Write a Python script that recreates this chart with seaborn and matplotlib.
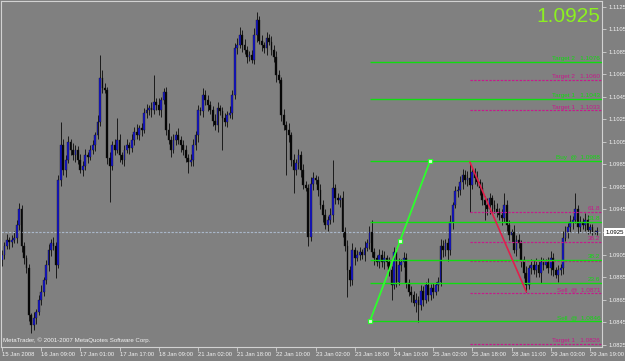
import numpy as np
import matplotlib
matplotlib.use("Agg")
import matplotlib.pyplot as plt
import seaborn as sns

# ---------------- data (prices in pips above 1.0000: price = 1 + pips/10000) -------------
first_open_pips = 900
close_pips = [
    905, 913, 918, 916, 918, 920, 931, 945, 913, 902,
    893, 851, 842, 849, 854, 865, 872, 882, 896, 909,
    915, 913, 896, 971, 1002, 980, 989, 1005, 998, 993,
    998, 989, 980, 984, 993, 992, 998, 1002, 1011, 1023,
    1062, 1053, 1051, 991, 984, 1002, 998, 1007, 993, 989,
    998, 1002, 1000, 1007, 1014, 1011, 1017, 1016, 1031, 1033,
    1035, 1033, 1040, 1038, 1033, 1042, 1049, 1016, 1007, 998,
    1007, 1011, 1007, 1002, 998, 991, 987, 989, 1002, 1011,
    1033, 1032, 1047, 1042, 1038, 1033, 1024, 1020, 1035, 1032,
    1026, 1023, 1029, 1031, 1047, 1088, 1091, 1100, 1091, 1087,
    1080, 1082,
    1078, 1100, 1113, 1095, 1091, 1088, 1097, 1094, 1087,
    1080, 1064, 1060, 1029, 1020, 1016, 1011, 989, 980, 986,
    993, 980, 967, 964, 921, 968, 973, 971, 962, 949,
    940, 931, 936, 940, 964, 955, 953, 955, 925, 913,
    891, 882, 909, 902, 905, 907, 905, 911, 915, 925,
    907, 902, 898, 905, 898, 902, 898, 891, 878, 907,
    881, 896, 898, 902, 880, 872, 869, 862, 865, 860,
    873, 865, 878, 869, 875, 872, 878, 881, 913, 909,
    915, 909, 934, 949, 961, 962, 969, 976, 971, 973,
    967, 978, 973, 969, 964, 953, 949, 945, 955, 949,
    945, 943, 940, 937, 949, 931, 922, 925, 909, 918,
    915, 900, 889, 878, 893, 896, 891, 896, 889, 898,
    896, 898, 893, 902, 891, 887, 891, 893, 920, 925,
    929, 934, 936, 945, 929, 934, 931, 936, 927, 929,
    925, 925, 926,
]
upper_wick_pips = [
    4, 3, 5, 3, 4, 6, 5, 6, 4, 3,
    3, 4, 2, 5, 3, 4, 6, 3, 4, 5,
    4, 6, 3, 5, 21, 6, 4, 5, 3, 6,
    4, 3, 5, 4, 6, 3, 4, 5, 3, 6,
    20, 7, 4, 3, 5, 4, 6, 19, 5, 3,
    4, 6, 3, 5, 4, 7, 3, 5, 4, 6,
    3, 5, 24, 4, 6, 3, 4, 5, 6, 3,
    5, 4, 6, 3, 5, 4, 3, 5, 6, 4,
    5, 3, 6, 4, 5, 3, 4, 6, 5, 3,
    4, 5, 3, 6, 4, 5, 6, 7, 4, 5,
    3, 4,
    5, 6, 7, 4, 5, 3, 6, 4, 5,
    4, 6, 5, 3, 5, 4, 6, 3, 5, 4,
    6, 4, 5, 3, 4, 6, 5, 3, 4, 6,
    4, 5, 3, 6, 25, 4, 5, 3, 6, 4,
    5, 4, 6, 3, 4, 5, 3, 6, 4, 5,
    11, 4, 3, 5, 4, 6, 3, 5, 4, 5,
    4, 6, 3, 5, 4, 3, 5, 4, 6, 3,
    5, 4, 3, 6, 4, 5, 3, 4, 6, 5,
    4, 5, 6, 3, 5, 4, 6, 5, 4, 6,
    14, 5, 4, 6, 3, 5, 4, 6, 5, 3,
    4, 6, 3, 5, 11, 4, 5, 3, 6, 4,
    5, 3, 4, 6, 3, 5, 4, 6, 3, 5,
    4, 3, 5, 6, 4, 3, 5, 4, 6, 5,
    4, 6, 3, 15, 4, 5, 3, 6, 4, 3,
    3, 2, 3,
]
lower_wick_pips = [
    5, 4, 3, 6, 4, 3, 5, 4, 6, 5,
    4, 5, 7, 4, 6, 3, 5, 4, 3, 6,
    5, 4, 12, 3, 5, 4, 6, 3, 5, 4,
    6, 4, 3, 5, 4, 6, 3, 4, 5, 3,
    4, 5, 3, 6, 32, 4, 5, 3, 6, 4,
    5, 3, 6, 4, 5, 3, 4, 6, 3, 5,
    4, 6, 3, 5, 4, 6, 3, 5, 4, 6,
    3, 5, 4, 6, 5, 4, 10, 3, 5, 4,
    6, 3, 5, 4, 6, 3, 5, 4, 6, 3,
    28, 4, 5, 3, 6, 4, 5, 3, 6, 4,
    5, 3,
    3, 4, 6, 3, 5, 4, 6, 3, 5,
    4, 6, 3, 5, 4, 40, 6, 5, 20, 4,
    5, 6, 4, 3, 8, 4, 6, 3, 5, 4,
    6, 3, 5, 4, 6, 5, 3, 6, 4, 5,
    24, 5, 4, 6, 3, 5, 4, 6, 3, 5,
    4, 6, 3, 5, 4, 6, 3, 5, 13, 4,
    5, 3, 6, 4, 5, 4, 6, 3, 8, 15,
    4, 6, 3, 5, 4, 6, 3, 5, 4, 6,
    5, 10, 4, 6, 3, 5, 4, 6, 3, 5,
    24, 4, 5, 3, 6, 4, 13, 5, 4, 6,
    3, 5, 4, 6, 3, 5, 4, 6, 3, 5,
    4, 6, 5, 6, 4, 5, 3, 6, 4, 9,
    5, 3, 4, 6, 5, 3, 6, 4, 5, 3,
    5, 4, 6, 3, 5, 4, 3, 5, 4, 3,
    3, 2, 3,
]

time_labels = ["15 Jan 2008", "16 Jan 09:00", "17 Jan 01:00", "17 Jan 17:00",
               "18 Jan 09:00", "21 Jan 02:00", "21 Jan 18:00", "22 Jan 10:00",
               "23 Jan 02:00", "23 Jan 18:00", "24 Jan 10:00", "25 Jan 02:00",
               "25 Jan 18:00", "28 Jan 11:00", "29 Jan 03:00", "29 Jan 19:00"]
bars_per_label = 16

current_price = 1.0925
price_ticks = [1.0825, 1.0845, 1.0865, 1.0885, 1.0905, 1.0925, 1.0945, 1.0965,
               1.0985, 1.1005, 1.1025, 1.1045, 1.1065, 1.1085, 1.1105, 1.1125]

# buy setup (green)
green_anchor_bars = [150.2, 174.7]
green_anchor_prices = [1.0846, 1.0988]
green_targets = [1.1043, 1.1076]
green_target_names = ["Target 1", "Target 2"]
# sell setup (magenta / red)
red_anchor_bars = [191, 214]
magenta_sell = 1.0871
magenta_targets = [1.0826, 1.1033, 1.1060]
magenta_target_names = ["Target 1", "Target 1", "Target 2"]
fib_ratios = [0.236, 0.382, 0.618]

# ---------------- style -------------
BG = "#808080"
FRAME = "#d2d2d2"
TXT = "#f2f2f2"
GREEN = "#10dc10"
LIME = "#2cff2c"
MAGENTA = "#c8188c"
RED = "#e0204c"

sns.set_theme(style="dark", rc={
    "axes.facecolor": BG, "figure.facecolor": BG, "axes.edgecolor": FRAME,
    "axes.linewidth": 0.8, "xtick.color": FRAME, "ytick.color": FRAME,
    "axes.grid": False,
})
plt.rcParams["font.family"] = ["Liberation Sans", "DejaVu Sans"]

fig = plt.figure(figsize=(6.25, 3.61), dpi=100)
ax = fig.add_axes([1 / 625, 14 / 361, 601 / 625, 346 / 361])

close = 1 + np.array(close_pips) / 10000.0
opens = np.concatenate([[1 + first_open_pips / 10000.0], close[:-1]])
high = np.maximum(opens, close) + np.array(upper_wick_pips) / 10000.0
low = np.minimum(opens, close) - np.array(lower_wick_pips) / 10000.0
n = len(close)
x = np.arange(n)
up = close >= opens

ax.vlines(x, low, high, color="#1a1a1a", lw=0.7, zorder=2)
body_h = np.maximum(np.abs(close - opens), 0.00004)
ax.bar(x, body_h, bottom=np.minimum(opens, close), width=0.74,
       color=np.where(up, "#1616d0", "#060606"), edgecolor="#101010",
       lw=0.25, zorder=2.5)

XMAX = 244.9
ax.set_xlim(-0.4, XMAX)
ax.set_ylim(1.08229, 1.11301)


def hline(y, x0, color, dotted=False, z=3.2):
    ax.plot([x0, XMAX], [y, y], color=color, lw=0.85 if dotted else 1.0, snap=True,
            ls=(0, (2, 1.2)) if dotted else "-", solid_capstyle="butt",
            dash_capstyle="butt", zorder=z)


def label(y, text, color):
    ax.annotate(text, xy=(244.2, y), xytext=(0, 0.6), textcoords="offset points",
                ha="right", va="bottom", fontsize=4.6, color=color, zorder=5)


# current price line
hline(current_price, -0.4, "#a9b7c9", dotted=True, z=2.2)

# magenta (sell) objects
r0, r1 = red_anchor_bars
red_hi, red_lo = high[r0], low[r1]
for lv in fib_ratios:
    hline(red_lo + (red_hi - red_lo) * lv, r0, MAGENTA, dotted=True)
for lv, nm in zip([0.382, 0.618], ["38.2", "61.8"]):
    label(red_lo + (red_hi - red_lo) * lv, nm, MAGENTA)
hline(magenta_sell, r0, MAGENTA, dotted=True)
label(magenta_sell, f"Sell  @  {magenta_sell:.4f}", MAGENTA)
for lv, nm in zip(magenta_targets, magenta_target_names):
    hline(lv, r0, MAGENTA, dotted=True)
    label(lv, f"{nm}   {lv:.4f}", MAGENTA)
sns.lineplot(x=[r0, r1], y=[red_hi, red_lo], ax=ax, color=RED, lw=1.2, zorder=4)

# green (buy) objects
g0, g1 = green_anchor_bars
p0, p1 = green_anchor_prices
for lv, nm in zip(fib_ratios, ["23.6", "38.2", "61.8"]):
    yv = p0 + (p1 - p0) * lv
    hline(yv, g0, GREEN)
    label(yv, nm, GREEN)
hline(p0, g0, GREEN)
hline(p1, g0, GREEN)
label(p0, f"Sell  @  {p0:.4f}", GREEN)
label(p1, f"Buy  @  {p1:.4f}", GREEN)
for lv, nm in zip(green_targets, green_target_names):
    hline(lv, g0, GREEN)
    label(lv, f"{nm}   {lv:.4f}", GREEN)
sns.lineplot(x=[g0, g1], y=[p0, p1], ax=ax, color=LIME, lw=1.3, zorder=4)
sns.scatterplot(x=[g0, (g0 + g1) / 2, g1], y=[p0, (p0 + p1) / 2, p1], ax=ax,
                marker="s", s=9, color="#d8ffd8", edgecolor=LIME, linewidth=0.8,
                zorder=4.5)

# axes / ticks
for s in ax.spines.values():
    s.set_color(FRAME)
    s.set_linewidth(0.8)
ax.set_xticks(np.arange(len(time_labels)) * bars_per_label)
ax.set_xticklabels(time_labels, ha="left")
ax.tick_params(axis="x", length=3, width=0.6, pad=0.5, labelsize=4.2,
               labelcolor=TXT, direction="out", bottom=True)
ax.yaxis.tick_right()
ax.set_yticks(price_ticks)
ax.set_yticklabels(["" if abs(t - current_price) < 1e-9 else f"{t:.4f}" for t in price_ticks])
ax.tick_params(axis="y", length=3, width=0.6, pad=1.5, labelsize=4.2,
               labelcolor=TXT, direction="out", right=True, left=False)
ax.set_xlabel("")
ax.set_ylabel("")
ax.annotate(f"{current_price:.4f}", xy=(1, current_price),
            xycoords=("axes fraction", "data"), xytext=(2.6, 0),
            textcoords="offset points", ha="left", va="center", fontsize=4.3,
            color="black", annotation_clip=False,
            bbox=dict(boxstyle="square,pad=0.25", fc="white", ec="none"))

fig.text(600 / 625, 1 - 16.5 / 361, f"{current_price:.4f}", ha="right", va="center",
         fontsize=15, color="#8cf020")
fig.text(3 / 625, 1 - 340 / 361, "MetaTrader, \u00a9 2001-2007 MetaQuotes Software Corp.",
         ha="left", va="center", fontsize=4.4, color=TXT)

fig.savefig("out.png", dpi=100, facecolor=BG)
